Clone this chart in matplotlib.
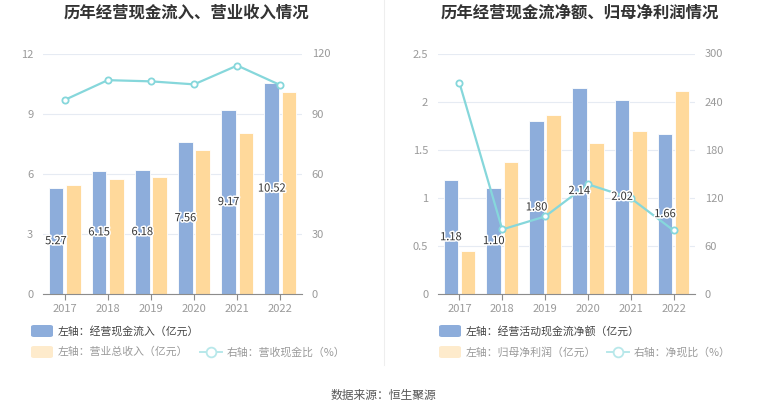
import matplotlib
matplotlib.use("Agg")
import matplotlib.pyplot as plt
from matplotlib.patches import FancyBboxPatch
from matplotlib.lines import Line2D
import matplotlib.patheffects as pe
import numpy as np

plt.rcParams['font.family'] = ['Noto Sans CJK SC', 'DejaVu Sans']

years = ['2017', '2018', '2019', '2020', '2021', '2022']

# left chart
cash_inflow = [5.27, 6.15, 6.18, 7.56, 9.17, 10.52]
revenue = [5.44, 5.74, 5.83, 7.20, 8.03, 10.07]
cash_ratio = [96.8, 106.7, 106.1, 104.6, 114.0, 104.2]

# right chart
net_cash = [1.18, 1.10, 1.80, 2.14, 2.02, 1.66]
net_profit = [0.45, 1.37, 1.86, 1.57, 1.69, 2.11]
net_ratio = [263.5, 80.5, 96.7, 136.9, 119.5, 79.3]

BLUE = '#8DADDB'
YELLOW = '#FFD99B'
TEAL = '#86D7DB'
GRID = '#E6EBF3'
TICK = '#9A9A9A'

W, H = 765, 413
fig = plt.figure(figsize=(W / 100, H / 100), dpi=100)


def px(x, y):
    return x / W, 1 - y / H


def draw_panel(left, right, title, title_x, bars1, bars2, line, ylim, yticks, rticks, ylbl):
    x0, y0 = px(left, 294)
    x1, y1 = px(right, 53.5)
    ax = fig.add_axes([x0, y0, x1 - x0, y1 - y0])
    x = np.arange(len(years))
    w = 0.34
    ax.bar(x - 0.2, bars1, w, color=BLUE, edgecolor='white', linewidth=0.6, zorder=2)
    ax.bar(x + 0.2, bars2, w, color=YELLOW, edgecolor='white', linewidth=0.6, zorder=2)
    ax.set_xlim(-0.5, 5.5)
    ax.set_ylim(0, ylim)
    ax.set_yticks(yticks)
    ax.set_yticklabels(ylbl)
    ax.set_xticks(x)
    ax.set_xticklabels(years)
    ax.grid(axis='y', color=GRID, linewidth=0.8, zorder=0)
    ax.set_axisbelow(True)
    for s in ['top', 'right', 'left']:
        ax.spines[s].set_visible(False)
    ax.spines['bottom'].set_color('#8C8C8C')
    ax.tick_params(axis='y', length=0, pad=7, labelsize=8, labelcolor=TICK)
    ax.tick_params(axis='x', length=4, color='#8C8C8C', pad=3, labelsize=8, labelcolor=TICK)

    # line on the twin axis, above the bars
    ax2 = ax.twinx()
    ax2.plot(x, line, color=TEAL, linewidth=1.6, marker='o', markersize=4.5,
             markerfacecolor='white', markeredgecolor=TEAL, markeredgewidth=1.3, zorder=4)
    ax2.set_ylim(0, rticks[-1])
    ax2.set_yticks(rticks)
    for s in ['top', 'right', 'left', 'bottom']:
        ax2.spines[s].set_visible(False)
    ax2.tick_params(axis='y', length=0, pad=7, labelsize=8, labelcolor=TICK)

    # bar labels go on top of everything
    for xi, v in zip(x, bars1):
        ax2.text(xi - 0.2, v / 2, f'{v:.2f}', ha='center', va='center', fontsize=8,
                 color='#333333', zorder=6, transform=ax.transData,
                 path_effects=[pe.withStroke(linewidth=2.2, foreground='white')])

    tx, ty = px(title_x, 13)
    fig.text(tx, ty, title, ha='center', va='center', fontsize=11.8,
             fontweight='bold', color='#333333')


draw_panel(43, 302, '历年经营现金流入、营业收入情况', 186,
           cash_inflow, revenue, cash_ratio, 12,
           [0, 3, 6, 9, 12], [0, 30, 60, 90, 120],
           ['0', '3', '6', '9', '12'])
draw_panel(438, 695, '历年经营现金流净额、归母净利润情况', 580,
           net_cash, net_profit, net_ratio, 2.5,
           [0, 0.5, 1, 1.5, 2, 2.5], [0, 60, 120, 180, 240, 300],
           ['0', '0.5', '1', '1.5', '2', '2.5'])


def legend_patch(x, y, color):
    bx, by = px(x, y + 6)
    fig.patches.append(FancyBboxPatch((bx, by), 22 / W, 12 / H,
                                      boxstyle='round,pad=0,rounding_size=0.004',
                                      transform=fig.transFigure, facecolor=color,
                                      edgecolor='none'))


def legend_text(x, y, s, color):
    tx, ty = px(x, y)
    fig.text(tx, ty, s, ha='left', va='center', fontsize=7.8, color=color)


def legend_line(x, y):
    lx0, ly = px(x, y)
    lx1, _ = px(x + 22, y)
    fig.lines.append(Line2D([lx0, lx1], [ly, ly], transform=fig.transFigure,
                            color='#B8E8EA', linewidth=1.4))
    cx, _ = px(x + 11, y)
    fig.lines.append(Line2D([cx], [ly], transform=fig.transFigure, marker='o',
                            markersize=7, markerfacecolor='white',
                            markeredgecolor='#B8E8EA', markeredgewidth=1.3))


# left legend
legend_patch(31, 331, BLUE)
legend_text(58, 331, '左轴：经营现金流入（亿元）', '#444444')
legend_patch(31, 352, '#FEEBCC')
legend_text(58, 352, '左轴：营业总收入（亿元）', '#9A9A9A')
legend_line(200, 352)
legend_text(227, 352, '右轴：营收现金比（%）', '#9A9A9A')

# right legend
legend_patch(439, 331, BLUE)
legend_text(466, 331, '左轴：经营活动现金流净额（亿元）', '#444444')
legend_patch(439, 352, '#FEEBCC')
legend_text(466, 352, '左轴：归母净利润（亿元）', '#9A9A9A')
legend_line(607, 352)
legend_text(634, 352, '右轴：净现比（%）', '#9A9A9A')

# divider
dx, dy0 = px(384, 0)
_, dy1 = px(384, 365)
fig.lines.append(Line2D([dx, dx], [dy0, dy1], transform=fig.transFigure,
                        color='#EEEEEE', linewidth=0.8))

sx, sy = px(383, 395)
fig.text(sx, sy, '数据来源：恒生聚源', ha='center', va='center', fontsize=8.5, color='#555555')

fig.savefig('out.png', dpi=100)
